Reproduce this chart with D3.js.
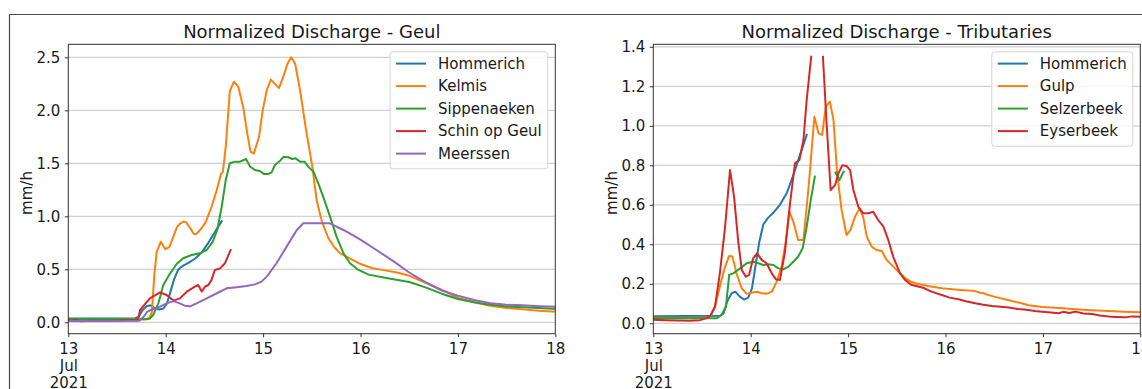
<!DOCTYPE html>
<html>
<head>
<meta charset="utf-8">
<script src="https://cdn.jsdelivr.net/npm/d3@7"></script>
<style>
  html, body { margin: 0; padding: 0; background: #fff; }
  svg { display: block; font-family: "DejaVu Sans", sans-serif; }
</style>
</head>
<body>
<svg id="fig" width="1142" height="389"></svg>
<script>
// Hourly-ish discharge readings, [hours since 13 Jul 2021 00:00, mm/h]; null marks missing data.
const hommerich = [[0,0.036],[16.5,0.038],[17.3,0.05],[18.2,0.11],[19.3,0.152],[20.2,0.16],[21.3,0.135],[22.4,0.12],[23.4,0.13],[24.3,0.175],[25.1,0.28],[26.1,0.41],[27.1,0.5],[28.3,0.535],[29.6,0.56],[31.2,0.6],[32.9,0.66],[34.5,0.75],[36.1,0.85],[37.8,0.954]];
const kelmis = [[0,0.025],[12,0.025],[19,0.028],[20,0.04],[20.6,0.1],[21.2,0.45],[21.8,0.667],[22.8,0.76],[23.9,0.69],[24.9,0.71],[25.9,0.81],[26.8,0.9],[27.5,0.93],[28.5,0.95],[29.0,0.945],[30.0,0.89],[31.0,0.83],[31.6,0.835],[32.9,0.89],[33.9,0.95],[35.3,1.09],[36.6,1.25],[37.6,1.40],[38.1,1.42],[38.8,1.66],[39.8,2.18],[40.8,2.27],[41.9,2.22],[43.1,2.03],[44.1,1.78],[44.9,1.61],[45.7,1.59],[47.0,1.75],[47.9,2.0],[48.9,2.19],[49.9,2.29],[50.9,2.25],[51.9,2.21],[53.0,2.32],[54.0,2.44],[54.9,2.50],[55.9,2.44],[57.1,2.19],[58.6,1.81],[60.2,1.45],[61.2,1.15],[62.5,0.95],[64,0.80],[65.5,0.71],[67,0.65],[69,0.61],[72,0.55],[75,0.51],[78,0.49],[81,0.47],[84,0.44],[87,0.39],[90,0.34],[93,0.29],[96,0.23],[100,0.19],[104,0.155],[108,0.135],[112,0.122],[116,0.11],[120,0.10]];
const sippenaeken = [[0,0.03],[19.5,0.03],[20.1,0.035],[20.9,0.069],[22.2,0.179],[23.4,0.352],[25.1,0.462],[26.7,0.55],[28.3,0.604],[30.4,0.635],[32.4,0.651],[34.1,0.682],[35.6,0.761],[36.7,0.871],[37.8,1.09],[38.8,1.343],[39.8,1.50],[41.1,1.516],[42.3,1.516],[43.8,1.541],[44.8,1.469],[46.0,1.437],[47.2,1.428],[48.2,1.40],[49.3,1.40],[50.1,1.415],[50.9,1.484],[52.2,1.525],[53.1,1.563],[54.2,1.557],[55.2,1.541],[56.0,1.547],[57.1,1.516],[58.2,1.516],[59.1,1.469],[60.4,1.421],[61.6,1.311],[62.8,1.186],[64.5,0.997],[66.1,0.808],[67.8,0.651],[69.4,0.557],[71.5,0.494],[74,0.45],[78,0.42],[84,0.38],[88,0.33],[92,0.27],[96,0.22],[100,0.19],[104,0.165],[108,0.15],[112,0.142],[116,0.135],[120,0.127]];
const schinOpGeul = [[0,0.015],[2,0.02],[3,0.01],[6,0.015],[9,0.012],[12,0.015],[15,0.02],[16.8,0.02],[17.3,0.05],[17.7,0.116],[20.1,0.226],[22.6,0.283],[24.2,0.258],[25.9,0.205],[27.5,0.226],[29.2,0.289],[31.2,0.336],[32.0,0.352],[32.9,0.29],[33.7,0.336],[34.5,0.352],[35.3,0.40],[36.1,0.494],[37.4,0.509],[38.6,0.557],[39.3,0.62],[40.0,0.682]];
const meerssen = [[0,0.012],[17.5,0.015],[18.5,0.05],[19.5,0.10],[20.9,0.126],[22.6,0.148],[24.2,0.179],[25.9,0.20],[27.5,0.179],[28.7,0.157],[30.0,0.151],[31.6,0.179],[34.1,0.226],[36.6,0.274],[39.0,0.321],[41.5,0.33],[43.9,0.343],[46.0,0.358],[47.6,0.384],[48.9,0.431],[51.3,0.557],[53.8,0.714],[56.3,0.871],[57.9,0.935],[64.3,0.935],[67.8,0.871],[72,0.78],[76,0.68],[80,0.58],[84,0.47],[88,0.38],[92,0.30],[96,0.25],[100,0.21],[104,0.18],[108,0.165],[112,0.16],[116,0.152],[120,0.147]];
const gulp = [[0,0.028],[13.5,0.028],[14.2,0.04],[15.2,0.084],[16.4,0.186],[17.7,0.287],[18.7,0.341],[19.5,0.338],[20.5,0.253],[21.8,0.177],[23.0,0.149],[24.2,0.155],[25.5,0.16],[26.7,0.152],[27.9,0.149],[29.2,0.16],[30.4,0.211],[31.6,0.287],[32.7,0.422],[33.5,0.565],[34.5,0.515],[35.7,0.422],[37.0,0.422],[38.2,0.675],[39.7,1.046],[40.7,0.962],[41.6,0.954],[42.5,1.097],[43.5,1.122],[44.4,1.03],[45.3,0.759],[46.4,0.574],[47.6,0.447],[48.6,0.473],[49.7,0.54],[50.8,0.582],[51.7,0.54],[52.6,0.439],[53.8,0.388],[55.0,0.371],[56.3,0.366],[57.5,0.321],[59.1,0.287],[60.8,0.253],[62,0.23],[63.5,0.21],[65,0.2],[67.7,0.189],[71.1,0.177],[75,0.17],[79.3,0.163],[80.5,0.155],[81.4,0.153],[82.2,0.145],[84,0.135],[87.6,0.117],[90,0.105],[92.5,0.091],[95.8,0.083],[100,0.077],[104,0.071],[108,0.066],[112.2,0.062],[116,0.059],[120,0.056]];
const selzerbeek = [[0,0.025],[15.6,0.025],[16.8,0.042],[17.9,0.084],[18.7,0.245],[19.7,0.253],[21.4,0.278],[23.0,0.304],[24.6,0.312],[25.9,0.304],[27.1,0.295],[28.3,0.299],[29.6,0.295],[30.8,0.278],[32.0,0.273],[33.3,0.287],[34.5,0.312],[35.7,0.338],[36.8,0.38],[37.8,0.489],[38.8,0.624],[39.8,0.743],[40.5,null],[44.9,0.763],[45.9,0.726],[46.9,0.768]];
const eyserbeek = [[0,0.018],[3,0.016],[6,0.014],[9,0.013],[11.5,0.016],[13,0.025],[14.0,0.037],[15.2,0.084],[16.4,0.253],[17.7,0.49],[18.9,0.776],[19.9,0.641],[20.9,0.42],[21.8,0.27],[22.8,0.236],[23.6,0.245],[24.6,0.329],[25.6,0.354],[26.7,0.321],[27.9,0.304],[29.2,0.253],[30.2,0.223],[31.2,0.219],[32.4,0.354],[33.7,0.608],[34.9,0.81],[36.0,0.827],[37.0,0.928],[37.8,1.131],[38.9,1.35],[40,null],[41.8,1.35],[42.7,1.013],[43.7,0.675],[44.8,0.70],[45.6,0.759],[46.6,0.80],[47.6,0.797],[48.5,0.776],[49.3,0.675],[50.5,0.591],[51.7,0.557],[53.0,0.557],[54.2,0.565],[55.4,0.523],[56.7,0.489],[57.9,0.422],[59.1,0.338],[60.8,0.253],[62,0.22],[63.5,0.195],[65,0.188],[66.5,0.18],[68,0.165],[70,0.15],[71.1,0.143],[73,0.13],[75.2,0.122],[77,0.112],[79.3,0.102],[81,0.095],[83.4,0.088],[85,0.085],[87.6,0.08],[90,0.072],[92,0.068],[94,0.062],[95.8,0.059],[98,0.055],[99.9,0.051],[101,0.058],[102.5,0.052],[104,0.059],[106,0.05],[108.1,0.047],[110,0.04],[112.2,0.034],[114,0.032],[116.3,0.03],[118,0.035],[120,0.033]];

const geulNames = ["Hommerich", "Kelmis", "Sippenaeken", "Schin op Geul", "Meerssen"];
const geulSeries = [hommerich, kelmis, sippenaeken, schinOpGeul, meerssen];
const tribNames = ["Hommerich", "Gulp", "Selzerbeek", "Eyserbeek"];
const tribSeries = [hommerich, gulp, selzerbeek, eyserbeek];

const geulTicks = [0, 0.5, 1.0, 1.5, 2.0, 2.5];
const tribTicks = [0, 0.2, 0.4, 0.6, 0.8, 1.0, 1.2, 1.4];
const dayTicks = [13, 14, 15, 16, 17, 18];

const palette = ["#1f77b4", "#ff7f0e", "#2ca02c", "#d62728", "#9467bd"];

const svg = d3.select("#fig");
const start = Date.UTC(2021, 6, 13);
const toDate = h => new Date(start + h * 3600 * 1000);

// figure frame
svg.append("path")
  .attr("d", "M9.5,389 V14.5 H1142")
  .attr("fill", "none").attr("stroke", "#4a4a4a").attr("stroke-width", 1.2);

function panel(opts) {
  const { left, right, top, bottom, yDomain, yTicks, names, series, title } = opts;
  const x = d3.scaleUtc()
    .domain([new Date(Date.UTC(2021, 6, 13)), new Date(Date.UTC(2021, 6, 18))])
    .range([left, right]);
  const y = d3.scaleLinear().domain(yDomain).range([bottom, top]);
  const g = svg.append("g");

  // horizontal grid
  g.append("g").selectAll("line").data(yTicks).join("line")
    .attr("x1", left).attr("x2", right)
    .attr("y1", d => y(d)).attr("y2", d => y(d))
    .attr("stroke", "#d0d0d0").attr("stroke-width", 1.2);

  // series
  const line = d3.line()
    .defined(d => d[1] != null)
    .x(d => x(toDate(d[0])))
    .y(d => y(d[1]));
  const clipId = "clip" + Math.round(left);
  svg.append("clipPath").attr("id", clipId).append("rect")
    .attr("x", left).attr("y", top).attr("width", right - left).attr("height", bottom - top);
  g.append("g").attr("clip-path", `url(#${clipId})`)
    .selectAll("path").data(series).join("path")
    .attr("d", line)
    .attr("fill", "none")
    .attr("stroke", (d, i) => palette[i])
    .attr("stroke-width", 2)
    .attr("stroke-linejoin", "round")
    .attr("stroke-linecap", "square");

  // axes
  const xAxis = d3.axisBottom(x)
    .tickValues(dayTicks.map(d => new Date(Date.UTC(2021, 6, d))))
    .tickSize(3.5).tickPadding(6)
    .tickFormat(d => String(d.getUTCDate()));
  const xg = g.append("g").attr("transform", `translate(0,${bottom})`).call(xAxis);
  xg.select(".domain").remove();
  xg.selectAll(".tick line").attr("stroke", "#333");
  xg.selectAll(".tick text")
    .attr("font-size", 15).attr("fill", "#1a1a1a").attr("font-family", "DejaVu Sans")
    .each(function(d, i) {
      if (i === 0) {
        const t = d3.select(this);
        t.text(null);
        t.append("tspan").attr("x", 0).text("13");
        t.append("tspan").attr("x", 0).attr("dy", "1.13em").text("Jul");
        t.append("tspan").attr("x", 0).attr("dy", "1.13em").text("2021");
      }
    });

  const yAxis = d3.axisLeft(y).tickValues(yTicks).tickSize(3.5).tickPadding(4.5)
    .tickFormat(d3.format(".1f"));
  const yg = g.append("g").attr("transform", `translate(${left},0)`).call(yAxis);
  yg.select(".domain").remove();
  yg.selectAll(".tick line").attr("stroke", "#333");
  yg.selectAll(".tick text").attr("font-size", 15).attr("fill", "#1a1a1a")
    .attr("font-family", "DejaVu Sans");

  // spines
  g.append("rect")
    .attr("x", left).attr("y", top).attr("width", right - left).attr("height", bottom - top)
    .attr("fill", "none").attr("stroke", "#333").attr("stroke-width", 1);

  // title and y label
  g.append("text")
    .attr("x", (left + right) / 2).attr("y", 37.5)
    .attr("text-anchor", "middle").attr("font-size", 18).attr("fill", "#1a1a1a")
    .text(title);
  g.append("text")
    .attr("transform", `translate(${left - 36.5},193) rotate(-90)`)
    .attr("text-anchor", "middle").attr("font-size", 15).attr("fill", "#1a1a1a")
    .text("mm/h");

  // legend
  const leg = g.append("g");
  const rowH = 22.5, pad = 6, handleLen = 30, gap = 12;
  const texts = leg.selectAll("text").data(names).join("text")
    .attr("font-size", 15).attr("fill", "#1a1a1a")
    .attr("dy", "0.35em")
    .text(d => d);
  let maxW = 0;
  texts.each(function() { maxW = Math.max(maxW, this.getComputedTextLength()); });
  const boxW = pad + handleLen + gap + maxW + pad;
  const boxH = names.length * rowH + 4.5;
  const bx = right - 7.5 - boxW, by = top + 7.5;
  leg.insert("rect", "text")
    .attr("x", bx).attr("y", by).attr("width", boxW).attr("height", boxH)
    .attr("rx", 3).attr("fill", "#fff").attr("fill-opacity", 0.8)
    .attr("stroke", "#d6d6d6").attr("stroke-width", 1);
  texts.attr("x", bx + pad + handleLen + gap).attr("y", (d, i) => by + 11.8 + i * rowH);
  leg.selectAll("line").data(names).join("line")
    .attr("x1", bx + pad).attr("x2", bx + pad + handleLen)
    .attr("y1", (d, i) => by + 11.8 + i * rowH).attr("y2", (d, i) => by + 11.8 + i * rowH)
    .attr("stroke", (d, i) => palette[i]).attr("stroke-width", 2);
}

panel({
  left: 68.3, right: 555.3, top: 44.3, bottom: 333.7,
  yDomain: [-0.1075, 2.623], yTicks: geulTicks,
  names: geulNames, series: geulSeries,
  title: "Normalized Discharge - Geul"
});
panel({
  left: 653.3, right: 1140.3, top: 44.3, bottom: 333.7,
  yDomain: [-0.0527, 1.4127], yTicks: tribTicks,
  names: tribNames, series: tribSeries,
  title: "Normalized Discharge - Tributaries"
});
</script>
</body>
</html>
